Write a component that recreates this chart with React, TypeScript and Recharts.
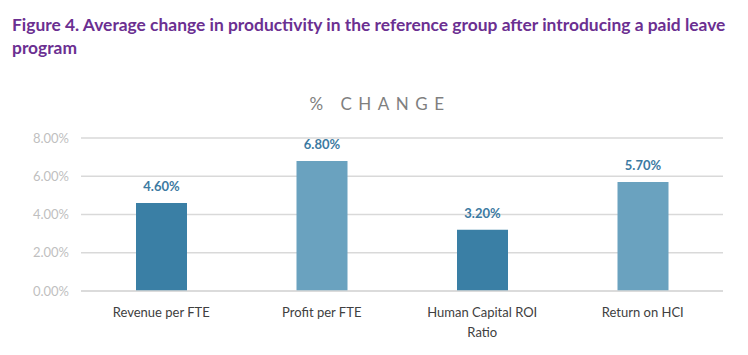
import React from 'react';
import { BarChart, Bar, XAxis, YAxis, CartesianGrid, Cell, LabelList, Text } from 'recharts';

const categories = ['Revenue per FTE', 'Profit per FTE', 'Human Capital ROI Ratio', 'Return on HCI'];
const changes = [4.6, 6.8, 3.2, 5.7];
const yTicks = [0, 2, 4, 6, 8];
const barColors = ['#3a7fa5', '#6aa2bf'];

const data = categories.map((name, i) => ({ name, value: changes[i] }));

const FONT = 'Lato, "Open Sans", sans-serif';

const CategoryTick = (props: any) => {
  const { x, y, payload } = props;
  return (
    <Text
      x={x}
      y={y + 9}
      width={136}
      textAnchor="middle"
      verticalAnchor="start"
      lineHeight={20}
      style={{ fontSize: 13, fill: '#404040', fontFamily: FONT }}
    >
      {payload.value}
    </Text>
  );
};

const App: React.FC = () => {
  return (
    <div style={{ position: 'absolute', left: 0, top: 0, width: 748, height: 355, background: '#fff', fontFamily: FONT }}>
      <div style={{ position: 'absolute', left: 12, top: 13, width: 736, color: '#6b2f91', fontWeight: 700, fontSize: 17.4, lineHeight: '23px', whiteSpace: 'nowrap' }}>
        Figure 4. Average change in productivity in the reference group after introducing a paid leave
        <br />
        program
      </div>
      <div style={{ position: 'absolute', left: 0, width: 748, top: 93, textAlign: 'center', color: '#7f7f7f', fontSize: 17, letterSpacing: 6.5, paddingLeft: 6 }}>
        % CHANGE
      </div>
      <div style={{ position: 'absolute', left: 0, top: 0 }}>
        <BarChart width={748} height={355} data={data} margin={{ top: 138, right: 25, bottom: 20, left: 11 }}>
          <CartesianGrid vertical={false} stroke="#d9d9d9" strokeWidth={1.5} />
          <XAxis
            dataKey="name"
            axisLine={{ stroke: '#d9d9d9', strokeWidth: 1.5 }}
            tickLine={false}
            interval={0}
            height={44}
            tick={<CategoryTick />}
          />
          <YAxis
            domain={[0, 8]}
            ticks={yTicks}
            axisLine={false}
            tickLine={false}
            width={70}
            tickFormatter={(v: number) => `${v.toFixed(2)}%`}
            tick={{ fontSize: 13, fill: '#bfbfbf', fontFamily: FONT }}
            dx={-4}
          />
          <Bar dataKey="value" barSize={51} isAnimationActive={false}>
            {data.map((_, i) => (
              <Cell key={`c-${i}`} fill={barColors[i % 2]} />
            ))}
            <LabelList
              dataKey="value"
              position="top"
              offset={12}
              formatter={(v: number) => `${v.toFixed(2)}%`}
              style={{ fontSize: 13, fontWeight: 700, fill: '#3c7aa2', fontFamily: FONT }}
            />
          </Bar>
        </BarChart>
      </div>
    </div>
  );
};

export default App;
